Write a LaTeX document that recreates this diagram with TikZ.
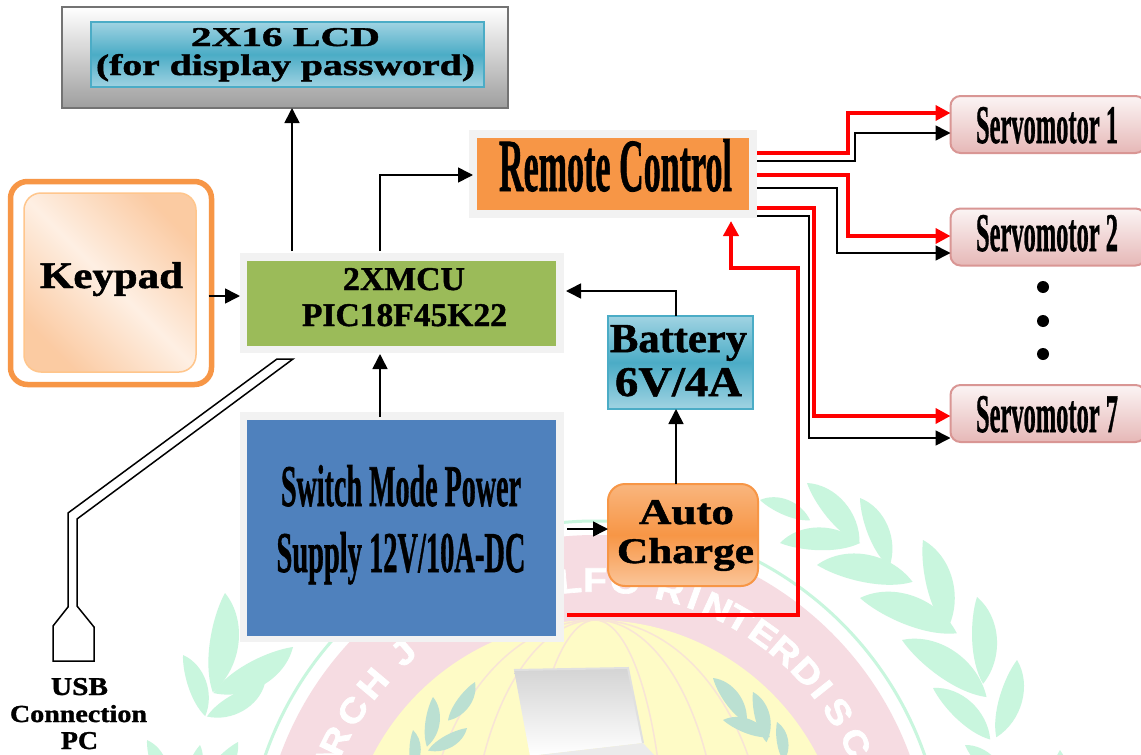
\documentclass[tikz,border=0pt]{standalone}
\usepackage{graphicx}
\usepackage{fontspec}
\setmainfont{Liberation Serif}
\newfontfamily\fb{Liberation Serif Bold}[FakeBold=1.2]
\newfontfamily\wm{Liberation Sans Bold}[FakeBold=2]
\usetikzlibrary{arrows.meta,calc}
\newcommand{\tx}[3]{\resizebox{#1pt}{#2pt}{\fb #3}}
\definecolor{orangeA}{HTML}{F79646}
\definecolor{frameA}{HTML}{F2F2F2}
\definecolor{tealA}{HTML}{4BACC6}
\definecolor{tealB}{HTML}{A0D3E2}
\definecolor{wmGreen}{HTML}{C9F6DE}
\definecolor{wmPink}{HTML}{F6DCE2}
\definecolor{wmYellow}{HTML}{FEFBC6}
\definecolor{wmTeal}{HTML}{BBE0D2}
\definecolor{wmLine}{HTML}{F8E4D6}
\definecolor{servoB}{HTML}{D99694}
\definecolor{servoF}{HTML}{E6B8B7}
\newcommand{\wleaf}[5]{\fill[#5,shift={(#1,#2)},rotate=#3] (-#4,0) .. controls (-0.72*#4,0.26*#4) and (-0.25*#4,0.26*#4) .. (0,0) .. controls (-0.25*#4,-0.10*#4) and (-0.72*#4,-0.14*#4) .. (-#4,0) -- cycle;}
\tikzset{
  x=1pt,y=-1pt,
  boxbase/.style={rectangle,inner sep=0pt,outer sep=0pt},
  framebox/.style={boxbase,fill=frameA},
  metal/.style={boxbase,draw=black!55,line width=2pt,top color=white,bottom color=black!38},
  tealbox/.style={boxbase,draw=tealA,line width=1.5pt,top color=tealB,bottom color=tealB,middle color=tealA},
  servo/.style={boxbase,draw=servoB,line width=2pt,rounded corners=10pt,top color=servoF!15!white,bottom color=servoF,minimum width=195pt,minimum height=57pt},
  label/.style={inner sep=0pt,outer sep=0pt,anchor=base,text=black},
  arr/.style={draw=black,line width=1.6pt,-{Triangle[length=15pt,width=15pt]}},
  rarr/.style={draw=red,line width=4pt,-{Triangle[length=15pt,width=15pt]}},
  wire/.style={draw=black,line width=1.5pt,line join=miter},
  dotmark/.style={circle,fill=black,inner sep=0pt,minimum size=12pt,outer sep=0pt}
}
\begin{document}
\begin{tikzpicture}
\useasboundingbox (0,0) rectangle (1141,755);
\clip (0,0) rectangle (1141,755);
\fill[white] (0,0) rectangle (1141,755);
% watermark: wreath, right side
\foreach \x/\y/\a/\l in {807/483/131/80,860/498/113/75,923/540/105/93,977/597/94/87,1017/660/75/80,1060/750/80/70}{\wleaf{\x}{\y}{\a}{\l}{wmGreen}}
\foreach \x/\y/\a/\l in {760/500/158/54,780/543/180/80,817/565/170/97,860/598/160/103,902/640/146/102,933/688/138/77,965/745/135/60}{\wleaf{\x}{\y}{\a}{\l}{wmGreen}}
% wreath, left side
\foreach \x/\y/\a/\l in {225/593/83/100,183/655/110/65,147/740/110/55,293/647/30/92,265/683/30/67,238/742/50/62,200/745/70/45}{\wleaf{\x}{\y}{\a}{\l}{wmGreen}}
% seal
\draw[wmGreen,line width=3pt] (595,870) circle[radius=349];
\fill[wmPink] (595,870) circle[radius=335];
\fill[wmYellow] (595,870) circle[radius=250];
\foreach \r in {70,125,172}{\draw[wmLine,line width=1.5pt] (595,870) ellipse[x radius=\r,y radius=250];}
\foreach \a/\c in {158/A,153.6/R,146.7/C,140/H,131.4/J,95/L,90/F,84/O,75/R,70/I,65/N,60/T,54.5/E,49/R,43/D,38.5/I,33/S,26/C}{
  \node[name=wm\a,text=white,rotate=\a-90,inner sep=0pt] at ({595+290*cos(\a)},{870-290*sin(\a)}) {\scalebox{1.25}[1.1]{\wm\fontsize{31}{31}\selectfont\c}};}
\foreach \x/\y/\a/\l in {713/678/127/56,753/692/105/52,777/722/100/40,723/720/160/50,475/682/55/47,433/697/83/50,467/728/30/45,413/730/90/40}{\wleaf{\x}{\y}{\a}{\l}{wmTeal}}
\shade[top color=black!17,bottom color=white] (514,670) -- (628,668) -- (643,743) -- (530,756) -- cycle;
\draw[black!12,line width=2pt] (514,670) -- (628,668) -- (643,743);
\fill[black!8] (530,756) -- (643,743) -- (655,756) -- cycle;
% boxes
\node[metal,minimum width=446pt,minimum height=101pt] (lcd) at (285,57.5) {};
\node[tealbox,minimum width=393pt,minimum height=65pt] (lcdin) at (287.5,54.5) {};
\node[boxbase,draw=orangeA,line width=5.5pt,rounded corners=17pt,fill=white,minimum width=201pt,minimum height=203pt] (keypad) at (111,283) {};
\node[boxbase,draw=orange!45!white,line width=1.5pt,rounded corners=17pt,top color=orangeA!50!white,bottom color=orangeA!50!white,middle color=orangeA!15!white,shading angle=-45,minimum width=172pt,minimum height=179pt] (keypadin) at (110,282.5) {};
\node[framebox,minimum width=324pt,minimum height=100pt] (mcuF) at (402,303) {};
\node[boxbase,fill={rgb,255:red,155;green,187;blue,89},minimum width=309pt,minimum height=85pt] (mcu) at (401.5,303.5) {};
\node[framebox,minimum width=288pt,minimum height=88pt] (remF) at (613,174) {};
\node[boxbase,fill=orangeA,minimum width=272pt,minimum height=72pt] (rem) at (613,174) {};
\node[tealbox,minimum width=145pt,minimum height=93pt] (bat) at (680.5,362.5) {};
\node[boxbase,draw=orangeA,line width=2pt,rounded corners=17pt,top color=orangeA!70!white,bottom color=orangeA!55!white,middle color=orangeA,minimum width=150pt,minimum height=102pt] (auto) at (683,535) {};
\node[framebox,minimum width=324pt,minimum height=230pt] (psuF) at (402,527) {};
\node[boxbase,fill={rgb,255:red,79;green,129;blue,189},minimum width=309pt,minimum height=216pt] (psu) at (401.5,528) {};
\node[servo] (s1) at (1048,124.5) {};
\node[servo] (s2) at (1048,237) {};
\node[servo] (s7) at (1048,413.5) {};
% labels
\node[label] (t1) at (285.5,46) {\tx{189}{18}{2X16 LCD}};
\node[label] (t2) at (285.5,75) {\tx{379}{21}{(for display password)}};
\node[label] (t3) at (111.5,288) {\tx{143}{26}{Keypad}};
\node[label] (t4) at (404,290) {\tx{122}{22}{2XMCU}};
\node[label] (t5) at (404.5,326) {\tx{205}{22}{PIC18F45K22}};
\node[label] (t6) at (615.5,191) {\tx{233}{52}{Remote Control}};
\node[label] (t7) at (678.5,352) {\tx{137}{27}{Battery}};
\node[label] (t8) at (678.5,396) {\tx{127}{28}{6V/4A}};
\node[label] (t9) at (686.5,524) {\tx{95}{24}{Auto}};
\node[label] (t10) at (685.5,563) {\tx{137}{25}{Charge}};
\node[label] (t11) at (401,506) {\tx{240}{41}{Switch Mode Power}};
\node[label] (t12) at (401,572) {\tx{249}{40}{Supply 12V/10A-DC}};
\node[label] (t13) at (1047,143) {\tx{142}{36}{Servomotor 1}};
\node[label] (t14) at (1047,251) {\tx{142}{36}{Servomotor 2}};
\node[label] (t15) at (1047,432) {\tx{142}{36}{Servomotor 7}};
\node[label] (t16) at (79.5,695) {\tx{57}{17}{USB}};
\node[label] (t17) at (78.5,722) {\tx{137}{17}{Connection}};
\node[label] (t18) at (79.5,749) {\tx{37}{17}{PC}};
\node[dotmark] (d1) at (1043,287) {};
\node[dotmark] (d2) at (1043,321) {};
\node[dotmark] (d3) at (1043,354) {};
% connectors
\draw[arr] ($(mcuF.north west)+(52,-2)$) -- ($(lcd.south west)+(230,0)$);
\draw[arr] ($(mcuF.north west)+(140,-2)$) |- ($(remF.west)+(4,1)$);
\draw[arr] ($(keypad.east)+(-3,13)$) -- ($(mcuF.west)+(0,-7)$);
\draw[arr] ($(bat.north)+(-4.5,0)$) |- ($(mcuF.east)+(2,-12)$);
\draw[arr] ($(psuF.north west)+(140,5)$) -- ($(mcuF.south west)+(140,1)$);
\draw[arr] ($(psuF.east)+(3,2)$) -- ($(auto.west)+(0,-6)$);
\draw[arr] ($(auto.north)+(-7,0)$) -- ($(bat.south)+(-4.5,0)$);
\draw[rarr] ($(remF.east)+(0,-21)$) -- ++(91,0) |- ($(s1.west)+(0,-11.5)$);
\draw[arr] ($(remF.east)+(0,-13)$) -- ++(98,0) |- ($(s1.west)+(0,8.5)$);
\draw[rarr] ($(remF.east)+(0,1)$) -- ++(91,0) |- ($(s2.west)+(0,-1)$);
\draw[arr] ($(remF.east)+(0,14)$) -- ++(80,0) |- ($(s2.west)+(0,16)$);
\draw[rarr] ($(remF.east)+(0,34)$) -- ++(57,0) |- ($(s7.west)+(0,2.5)$);
\draw[arr] ($(remF.east)+(0,42)$) -- ++(52,0) |- ($(s7.west)+(0,24.5)$);
\draw[rarr] ($(psuF.south east)+(3,-27)$) -- ++(231,0) |- ($(rem.south east)+(-18,58)$) -- ($(rem.south east)+(-18,11)$);
% USB cable
\draw[wire] ($(mcuF.south west)+(53,6)$) -- ($(mcuF.south west)+(37,6)$) -- (68,513) -- (68,607) -- (53,626) -- (53,661) -- (94,661) -- (94,627) -- (77,606) -- (77,519) -- cycle;
\end{tikzpicture}
\end{document}
